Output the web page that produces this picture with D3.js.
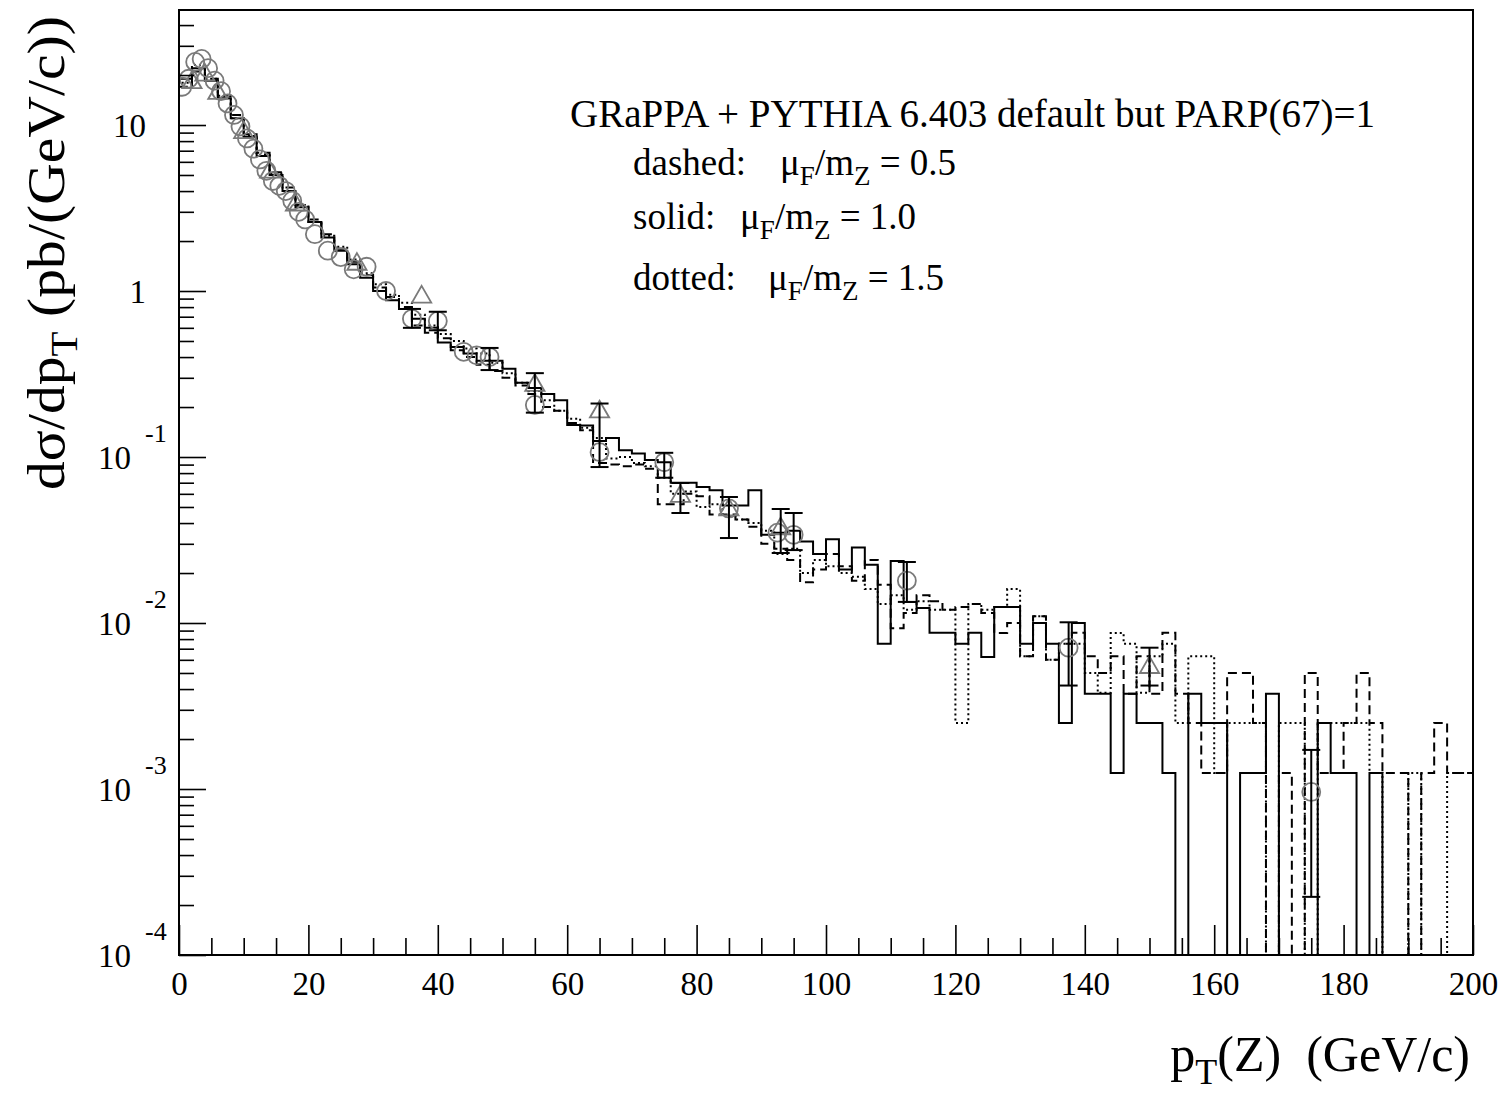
<!DOCTYPE html>
<html><head><meta charset="utf-8">
<script src="https://cdn.jsdelivr.net/npm/d3@7"></script>
<style>
body{margin:0;background:#fff;}
svg{display:block;}
text{font-family:"Liberation Serif","Times New Roman",serif;fill:#000;white-space:pre;}
</style>
</head><body>
<svg id="c" width="1512" height="1095"></svg>
<script>
// ---------- data ----------
const binWidth = 2; // GeV, 100 bins from 0 to 200
const solidVals = [19,22,18.5,14.5,11,8.5,6.5,5.0,4.0,3.2,
  2.6,2.1,1.75,1.45,1.2,1.0,0.88,0.78,0.68,0.6,
  0.49,0.46,0.42,0.38,0.38,0.34,0.28,0.26,0.24,0.22,
  0.156,0.155,0.125,0.13,0.11,0.105,0.096,0.093,0.07,0.07,
  0.066,0.063,0.051,0.051,0.063,0.034,0.035,0.036,0.031,0.026,
  0.032,0.021,0.0285,0.0224,0.0075,0.0236,0.0134,0.0123,0.00875,0.00875,
  0.0075,0.00875,0.00625,0.0125,0.0125,0.0075,0.01,0.0075,0.0025,0.01,
  0.00375,0.00375,0.00125,0.00375,0.0025,0.0025,0.00125,0,0.00375,0.0025,
  0.0025,0,0.00125,0.00125,0.00375,0,0,0,0.0025,0.00125,
  0.00125,0,0.00125,0,0,0,0,0,0,0];
const dashedVals = [17,21,19,15,11.5,8.8,6.8,5.2,4.2,3.3,
  2.7,2.2,1.8,1.5,1.25,1.05,0.92,0.8,0.62,0.56,
  0.52,0.44,0.4,0.36,0.33,0.3,0.27,0.24,0.2,0.19,
  0.16,0.145,0.092,0.09,0.088,0.09,0.085,0.052,0.052,0.06,
  0.058,0.045,0.045,0.042,0.038,0.03,0.028,0.024,0.0176,0.021,
  0.026,0.022,0.018,0.024,0.017,0.0093,0.0115,0.0147,0.0135,0.012,
  0.0125,0.013,0.0115,0.0087,0.01,0.0063,0.011,0.006,0.0075,0.00875,
  0.0063,0.005,0.0063,0.00375,0.0063,0.00375,0.00875,0.00375,0.0025,0.00125,
  0.00125,0.005,0.005,0.0025,0,0.00125,0,0.005,0.00125,0.00125,
  0.0025,0.005,0.0025,0.00125,0.00125,0,0.00125,0.0025,0.00125,0.00125];
const dottedVals = [18,23,19,15,11,8.6,6.6,5.1,4.0,3.3,
  2.6,2.15,1.85,1.55,1.28,1.1,0.95,0.85,0.72,0.62,
  0.55,0.5,0.45,0.42,0.37,0.32,0.28,0.25,0.22,0.19,
  0.17,0.15,0.13,0.098,0.1,0.092,0.088,0.075,0.06,0.062,
  0.05,0.052,0.044,0.042,0.04,0.036,0.026,0.028,0.02,0.024,
  0.022,0.02,0.019,0.016,0.013,0.0147,0.012,0.0135,0.012,0.012,
  0.0025,0.013,0.012,0.0125,0.016,0.0063,0.011,0.006,0.0075,0.0075,
  0.005,0.0038,0.0087,0.0075,0.0038,0.0063,0.0075,0.0025,0.0063,0.0063,
  0.00125,0.0025,0.0025,0.0025,0,0.0025,0.0025,0,0.0025,0.0025,
  0.0025,0.0025,0.00125,0,0,0.00125,0,0,0.00125,0.00125];

const circlePt  = [0.5,1.5,2.5,3.5,4.5,5.5,6.5,7.5,8.5,9.5,10.5,11.5,12.5,13.5,14.5,15.5,16.5,17.5,18.5,19.5,21,23,25,27,29,32,36,40,44,46,48,55,65,75,85,92.5,95,112.5,137.5,175];
const circleVal = [17,19,24,25,22,18.5,16,13.5,11.5,9.8,8.3,7.2,6.2,5.3,4.6,4.3,4.0,3.5,3.0,2.7,2.2,1.75,1.6,1.35,1.4,1.0,0.68,0.66,0.43,0.41,0.4,0.206,0.107,0.093,0.049,0.035,0.034,0.018,0.0071,0.00096];
const trianglePt  = [2,4,6,10,14,18,27.5,37.5,55,65,77.5,85,93,150];
const triangleVal = [18,20,15.5,9,5.2,3.3,1.45,0.92,0.27,0.187,0.058,0.048,0.037,0.0054];
const errPt = [36,40,48,55,65,75,77.5,85,93,95,112.5,137.5,150,175];
const errLo = [0.6,0.58,0.334,0.185,0.087,0.075,0.046,0.0325,0.0264,0.0275,0.0134,0.0042,0.0042,0.000224];
const errHi = [0.78,0.75,0.454,0.32,0.21,0.106,0.0697,0.0574,0.0486,0.046,0.0233,0.0101,0.0071,0.00172];

const xTickLabels = [0,20,40,60,80,100,120,140,160,180,200];
const yDecades = [1e-4,1e-3,1e-2,1e-1,1,10];
const yDecadeBase = ["10","10","10","10","1","10"];
const yDecadeExp  = ["-4","-3","-2","-1","",""];

const legendTitle = "GRaPPA + PYTHIA 6.403 default but PARP(67)=1";
const legendStyles = ["dashed:","solid:","dotted:"];
const legendRatios = ["0.5","1.0","1.5"];

// ---------- layout ----------
const L=179, R=1473, T=10, B=955;
const yMin=1e-4, yMax=49.3;
const x = d3.scaleLinear().domain([0,200]).range([L,R]);
const y = d3.scaleLog().domain([yMin,yMax]).range([B,T]);
const svg = d3.select("#c");

svg.append("clipPath").attr("id","clip").append("rect")
  .attr("x",L).attr("y",T).attr("width",R-L).attr("height",B-T);

// histograms
function histPoints(vals){
  const pts=[[0,yMin]];
  vals.forEach((v,i)=>{
    const lo=i*binWidth, hi=(i+1)*binWidth, vv=Math.max(v,yMin);
    pts.push([lo,vv],[hi,vv]);
  });
  pts.push([200,yMin]);
  return pts;
}
const line = d3.line().x(d=>x(d[0])).y(d=>y(d[1]));
const gPlot = svg.append("g").attr("clip-path","url(#clip)");
[[dottedVals,"2,3"],[dashedVals,"9,5"],[solidVals,null]].forEach(([vals,dash])=>{
  const p = gPlot.append("path").attr("d",line(histPoints(vals)))
    .attr("fill","none").attr("stroke","#000").attr("stroke-width",2);
  if(dash) p.attr("stroke-dasharray",dash);
});

// markers
const mk = "#7a7a7a";
gPlot.selectAll("circle.d").data(circlePt.map((p,i)=>[p,circleVal[i]])).join("circle")
  .attr("cx",d=>x(d[0])).attr("cy",d=>y(d[1])).attr("r",9)
  .attr("fill","none").attr("stroke",mk).attr("stroke-width",1.8);
const tri = d3.symbol().type(d3.symbolTriangle).size(160);
gPlot.selectAll("path.t").data(trianglePt.map((p,i)=>[p,triangleVal[i]])).join("path")
  .attr("d",tri).attr("transform",d=>`translate(${x(d[0])},${y(d[1])})`)
  .attr("fill","none").attr("stroke",mk).attr("stroke-width",1.8);

// error bars
const eb = gPlot.selectAll("g.e").data(errPt.map((p,i)=>[p,errLo[i],errHi[i]])).join("g");
eb.append("line").attr("x1",d=>x(d[0])).attr("x2",d=>x(d[0]))
  .attr("y1",d=>y(d[1])).attr("y2",d=>y(d[2])).attr("stroke","#000").attr("stroke-width",2);
eb.append("line").attr("x1",d=>x(d[0])-9).attr("x2",d=>x(d[0])+9)
  .attr("y1",d=>y(d[1])).attr("y2",d=>y(d[1])).attr("stroke","#000").attr("stroke-width",2);
eb.append("line").attr("x1",d=>x(d[0])-9).attr("x2",d=>x(d[0])+9)
  .attr("y1",d=>y(d[2])).attr("y2",d=>y(d[2])).attr("stroke","#000").attr("stroke-width",2);

// axes
const xMinor = d3.range(0,201,5).filter(v=>v%20!==0);
const gxMaj = svg.append("g").attr("transform",`translate(0,${B})`)
  .call(d3.axisBottom(x).tickValues(xTickLabels).tickSize(-30).tickPadding(17).tickFormat(d3.format("d")));
const gxMin = svg.append("g").attr("transform",`translate(0,${B})`)
  .call(d3.axisBottom(x).tickValues(xMinor).tickSize(-17).tickFormat(""));
const yMinor = [];
yDecades.forEach(dv=>{ for(let k=2;k<=9;k++){ if(dv*k<yMax) yMinor.push(dv*k); } });
const gyMaj = svg.append("g").attr("transform",`translate(${L},0)`)
  .call(d3.axisLeft(y).tickValues(yDecades).tickSize(-27).tickFormat(""));
const gyMin = svg.append("g").attr("transform",`translate(${L},0)`)
  .call(d3.axisLeft(y).tickValues(yMinor).tickSize(-15).tickFormat(""));
[gxMaj,gxMin,gyMaj,gyMin].forEach(g=>{
  g.select(".domain").remove();
  g.selectAll(".tick line").attr("stroke","#000").attr("stroke-width",1.6);
});
gxMaj.selectAll("text").attr("font-size",33).attr("font-family","Liberation Serif").attr("fill","#000");

// y tick labels with exponents
yDecades.forEach((dv,i)=>{
  const yy=y(dv);
  if(yDecadeExp[i]===""){
    svg.append("text").attr("x",146).attr("y",yy+12).attr("text-anchor","end")
      .attr("font-size",33).text(yDecadeBase[i]);
  } else {
    svg.append("text").attr("x",131).attr("y",yy+12).attr("text-anchor","end")
      .attr("font-size",33).text(yDecadeBase[i]);
    svg.append("text").attr("x",145).attr("y",yy-15).attr("text-anchor","start")
      .attr("font-size",26).text(yDecadeExp[i]);
  }
});

// frame
svg.append("rect").attr("x",L).attr("y",T).attr("width",R-L).attr("height",B-T)
  .attr("fill","none").attr("stroke","#000").attr("stroke-width",2);

// axis titles
const yt = svg.append("text").attr("transform","translate(64,12) rotate(-90)")
  .attr("x",-478).attr("text-anchor","start").attr("font-size",52)
  .attr("textLength",474).attr("lengthAdjust","spacingAndGlyphs");
yt.append("tspan").text("dσ/dp");
yt.append("tspan").attr("dy",13).attr("font-size",37).text("T");
yt.append("tspan").attr("dy",-13).text(" (pb/(GeV/c))");

const xt = svg.append("text").attr("x",1470).attr("y",1071).attr("text-anchor","end").attr("font-size",50);
xt.append("tspan").text("p");
xt.append("tspan").attr("dy",13).attr("font-size",36).text("T");
xt.append("tspan").attr("dy",-13).text("(Z)  (GeV/c)");

// legend text
svg.append("text").attr("x",570).attr("y",127).attr("font-size",39).text(legendTitle);
const rowY=[175,229,290], muX=[780,740,768];
legendStyles.forEach((s,i)=>{
  const t = svg.append("text").attr("x",633).attr("y",rowY[i]).attr("font-size",37);
  t.append("tspan").text(s);
  t.append("tspan").attr("x",muX[i]).text("μ");
  t.append("tspan").attr("dy",10).attr("font-size",27).text("F");
  t.append("tspan").attr("dy",-10).text("/m");
  t.append("tspan").attr("dy",10).attr("font-size",27).text("Z");
  t.append("tspan").attr("dy",-10).text(" = "+legendRatios[i]);
});
</script>
</body></html>
